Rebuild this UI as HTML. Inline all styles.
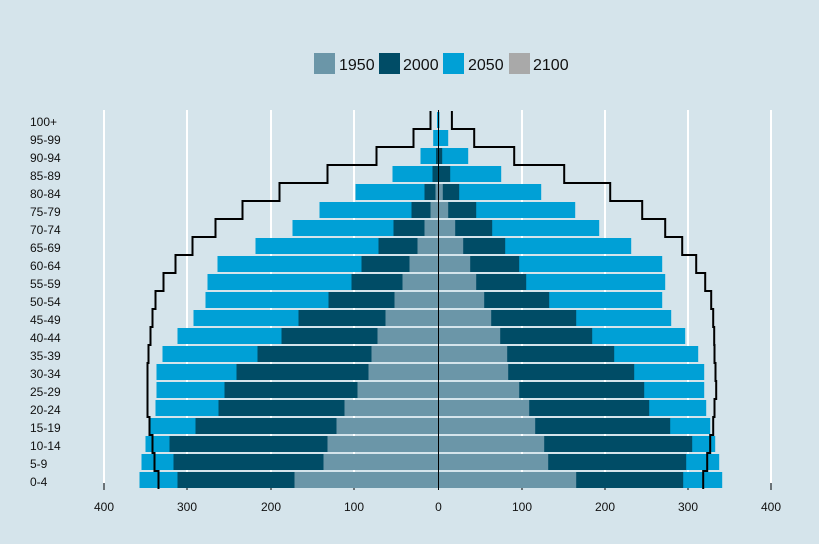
<!DOCTYPE html>
<html><head><meta charset="utf-8"><style>
html,body{margin:0;padding:0;background:#d5e4eb;}
svg{display:block;font-family:"Liberation Sans",sans-serif;}
</style></head><body>
<svg id="s" width="819" height="544" xmlns="http://www.w3.org/2000/svg">
<rect width="819" height="544" fill="#d5e4eb"/>
<g font-size="16" fill="#111">
<rect x="314" y="53" width="21" height="21" fill="#6b96a8"/><text x="339" y="70">1950</text>
<rect x="379" y="53" width="21" height="21" fill="#004c66"/><text x="403" y="70">2000</text>
<rect x="443" y="53" width="21" height="21" fill="#00a0d6"/><text x="468" y="70">2050</text>
<rect x="509" y="53" width="21" height="21" fill="#a9a9a9"/><text x="533" y="70">2100</text>
</g>
<g id="g"></g>
</svg>
<script>
var C=438.5,g=document.getElementById('g'),h='';
var grid=[104,187,271,354,522,605,688,771];
grid.forEach(function(x){h+='<line x1="'+x+'" y1="110" x2="'+x+'" y2="483" stroke="#fff" stroke-width="2"/>';h+='<line x1="'+x+'" y1="483" x2="'+x+'" y2="490" stroke="#000" stroke-width="1"/>';});
var xl=[[104,'400'],[187,'300'],[271,'200'],[354,'100'],[438.5,'0'],[522,'100'],[605,'200'],[688,'300'],[771,'400']];
xl.forEach(function(a){h+='<text x="'+a[0]+'" y="511" font-size="12" text-anchor="middle" fill="#111">'+a[1]+'</text>';});
var labels=['0-4','5-9','10-14','15-19','20-24','25-29','30-34','35-39','40-44','45-49','50-54','55-59','60-64','65-69','70-74','75-79','80-84','85-89','90-94','95-99','100+'];
var L=[[299,261,144,280],[297,265,115,284],[293,269,111,286],[288,243,102,289],[283,220,94,291],[282,214,81,291],[282,202,70,291],[276,181,67,290],[261,157,61,288],[245,140,53,286],[233,110,44,283],[231,87,36,275],[221,77,29,263],[183,60,21,246],[146,45,14,223],[119,27,8,196],[83,14,3,159],[46,6,0,111],[18,2.5,0,62],[5.3,0,0,25],[1.5,0,0,8]];
var R=[[283.7,244.7,137.7,264.7],[280.7,247.7,109.7,268.7],[276.7,253.7,105.7,271.7],[271.7,231.7,96.7,274.7],[267.7,210.7,90.7,276],[265.7,205.7,80.7,277.7],[265.7,195.7,69.7,277],[259.7,175.7,68.7,276],[246.7,153.7,61.7,275.7],[232.7,137.7,52.7,274.7],[223.7,110.7,45.7,272.7],[226.7,87.7,37.7,266.7],[223.7,80.7,31.7,257.7],[192.7,66.7,24.7,243.7],[160.7,53.7,16.7,226.7],[136.7,37.7,9.7,203.7],[102.7,20.7,4.3,171.7],[62.7,11.7,0,125.7],[29.7,3.7,0,75.7],[9.7,0,0,35.7],[1,0,0,13.4]];
var cols=['#00a0d6','#004c66','#6b96a8'];
var pl='',pr='';
for(var i=0;i<21;i++){
 var cy=480-18*i,y=cy-8;
 for(var k=0;k<3;k++){
  if(L[i][k]>0)h+='<rect x="'+(C-L[i][k])+'" y="'+y+'" width="'+L[i][k]+'" height="16" fill="'+cols[k]+'"/>';
  if(R[i][k]>0)h+='<rect x="'+C+'" y="'+y+'" width="'+R[i][k]+'" height="16" fill="'+cols[k]+'"/>';
 }
 h+='<text x="30" y="'+(cy+6)+'" font-size="12" fill="#111">'+labels[i]+'</text>';
 var xl_=C-L[i][3],xr_=C+R[i][3],yb=cy+9,yt=cy-9;
 if(i==0){pl='M'+xl_+' '+yb;pr='M'+xr_+' '+yb;}else{pl+=' L'+xl_+' '+yb;pr+=' L'+xr_+' '+yb;}
 pl+=' L'+xl_+' '+yt;pr+=' L'+xr_+' '+yt;
}
h+='<path d="'+pl+'" fill="none" stroke="#000" stroke-width="2"/>';
h+='<path d="'+pr+'" fill="none" stroke="#000" stroke-width="2"/>';
h+='<line x1="'+C+'" y1="110" x2="'+C+'" y2="490" stroke="#000" stroke-width="1"/>';
g.innerHTML=h;
</script>
</body></html>
